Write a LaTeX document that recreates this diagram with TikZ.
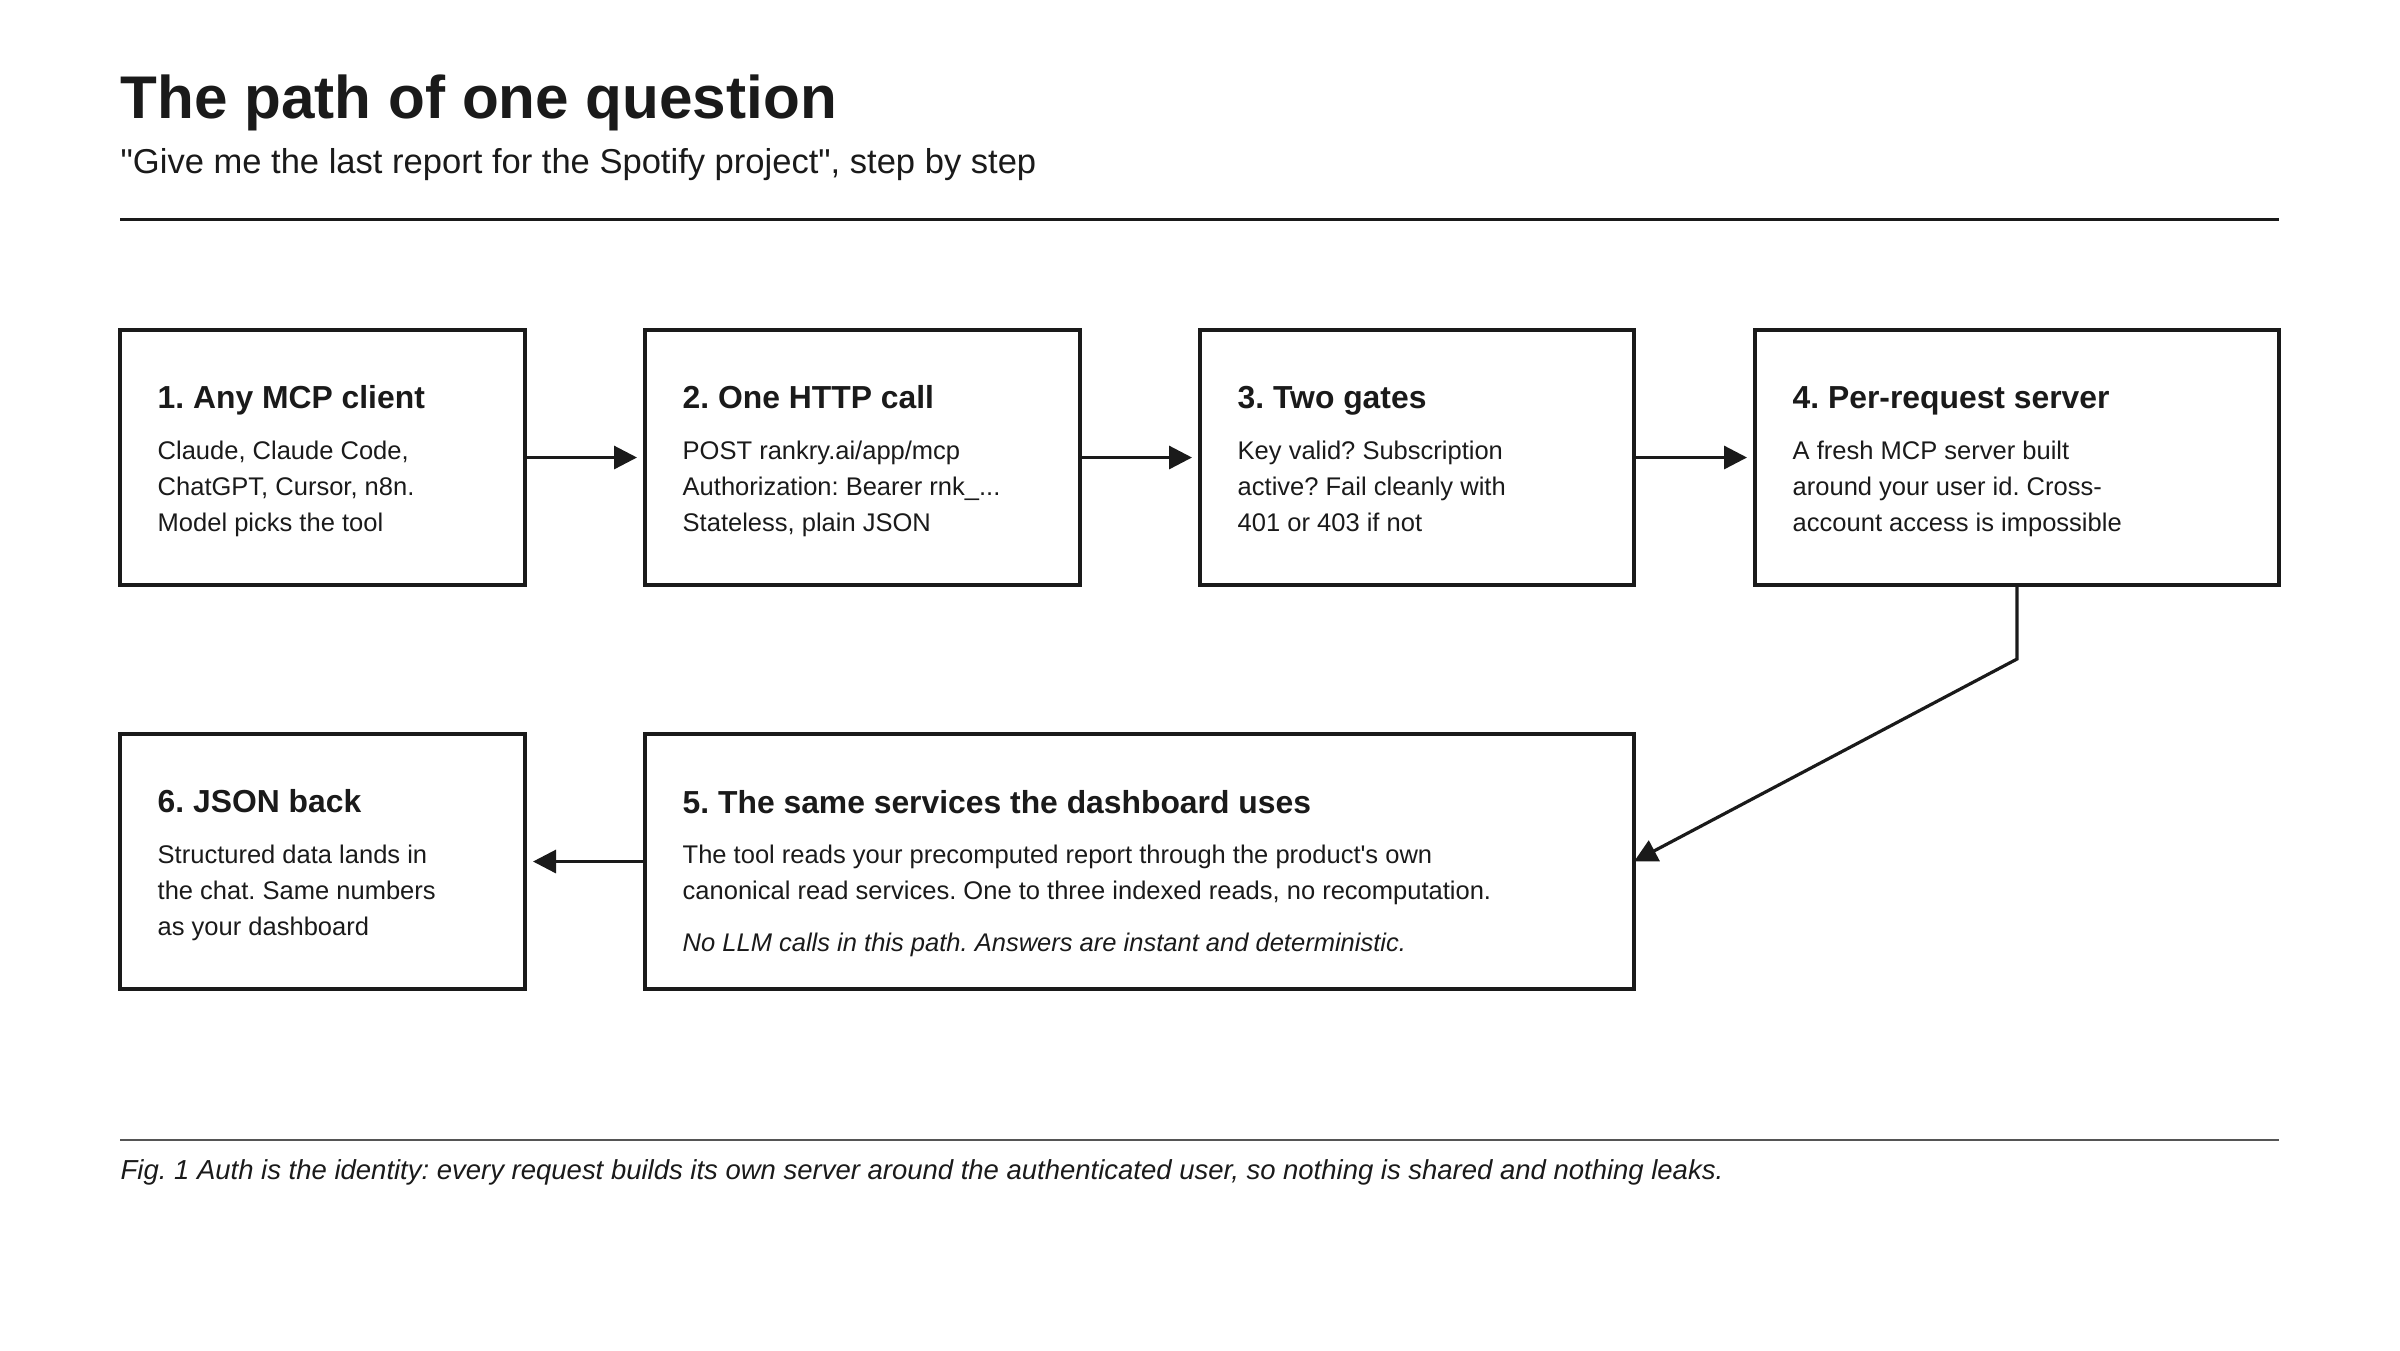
\documentclass[tikz,border=0pt]{standalone}
\usepackage{fontspec}
\setmainfont{Liberation Sans}[Ligatures=TeXOff]
\usetikzlibrary{arrows.meta}
\usetikzlibrary{positioning}
\definecolor{ink}{RGB}{26,26,26}
\definecolor{rulegray}{RGB}{85,85,85}
\frenchspacing

\tikzset{
  stepbox/.style={draw=ink, line width=0.04cm, outer sep=0pt, inner sep=0pt, minimum height=2.55cm},
  stephead/.style={anchor=base west, inner sep=0pt, text=ink, font=\fontsize{9.06}{10.8}\selectfont\bfseries},
  stepbody/.style={anchor=base west, inner sep=0pt, text=ink, align=left, font=\fontsize{7.26}{10.24}\selectfont},
  flow/.style={draw=ink, line width=0.032cm, -{Triangle[length=0.23cm,width=0.23cm]}},
}

\begin{document}
\begin{tikzpicture}
	\useasboundingbox (0,0) rectangle (24,-13.5);
	% header
	\node[anchor=base west, inner sep=0pt, text=ink, font=\fontsize{17.14}{20}\selectfont\bfseries] (title) at (1.20,-1.183) {The path of one question};
	\node[anchor=base west, inner sep=0pt, text=ink, font=\fontsize{9.83}{11.5}\selectfont] (subtitle) at (1.20,-1.733) {"Give me the last report for the Spotify project", step by step};
	\draw[ink, line width=0.03cm] (1.20,-2.19) -- (22.79,-2.19);
	% first row
	\node[stepbox, minimum width=4.05cm, anchor=north west] (b1) at (1.20,-3.30) {};
	\node[stepbox, minimum width=4.35cm, right=1.20cm of b1] (b2) {};
	\node[stepbox, minimum width=4.34cm, right=1.20cm of b2] (b3) {};
	\node[stepbox, minimum width=5.24cm, right=1.21cm of b3] (b4) {};
	% second row
	\node[stepbox, minimum width=4.05cm, below=1.49cm of b1] (b6) {};
	\node[stepbox, minimum width=9.89cm, right=1.20cm of b6] (b5) {};
	% texts (body nodes sit on the baseline of their last line)
	\node[stephead] (h1) at ([shift={(0.37,-0.78)}]b1.north west) {1. Any MCP client};
	\node[stepbody] (t1) at ([shift={(0.37,-2.01)}]b1.north west) {Claude, Claude Code,\\ ChatGPT, Cursor, n8n.\\ Model picks the tool};
	\node[stephead] (h2) at ([shift={(0.37,-0.78)}]b2.north west) {2. One HTTP call};
	\node[stepbody] (t2) at ([shift={(0.37,-2.01)}]b2.north west) {POST rankry.ai/app/mcp\\ Authorization: Bearer rnk\_...\\ Stateless, plain JSON};
	\node[stephead] (h3) at ([shift={(0.37,-0.78)}]b3.north west) {3. Two gates};
	\node[stepbody] (t3) at ([shift={(0.37,-2.01)}]b3.north west) {Key valid? Subscription\\ active? Fail cleanly with\\ 401 or 403 if not};
	\node[stephead] (h4) at ([shift={(0.37,-0.78)}]b4.north west) {4. Per-request server};
	\node[stepbody] (t4) at ([shift={(0.37,-2.01)}]b4.north west) {A fresh MCP server built\\ around your user id. Cross-\\ account access is impossible};
	\node[stephead] (h5) at ([shift={(0.37,-0.79)}]b5.north west) {5. The same services the dashboard uses};
	\node[stepbody] (t5) at ([shift={(0.37,-1.65)}]b5.north west) {The tool reads your precomputed report through the product's own\\ canonical read services. One to three indexed reads, no recomputation.};
	\node[stepbody, font=\fontsize{7.26}{10.24}\selectfont\itshape] (n5) at ([shift={(0.37,-2.17)}]b5.north west) {No LLM calls in this path. Answers are instant and deterministic.};
	\node[stephead] (h6) at ([shift={(0.37,-0.78)}]b6.north west) {6. JSON back};
	\node[stepbody] (t6) at ([shift={(0.37,-2.01)}]b6.north west) {Structured data lands in\\ the chat. Same numbers\\ as your dashboard};
	% connectors
	\draw[flow, shorten >=0.08cm] (b1) -- (b2);
	\draw[flow, shorten >=0.08cm] (b2) -- (b3);
	\draw[flow, shorten >=0.08cm] (b3) -- (b4);
	\draw[flow] (b4.south) -- ++(0,-0.74) -- (b5.east);
	\draw[flow, shorten >=0.08cm] (b5) -- (b6);
	% caption
	\draw[rulegray, line width=0.02cm] (1.20,-11.40) -- (22.79,-11.40);
	\node[anchor=base west, inner sep=0pt, text=ink, font=\fontsize{7.82}{9.4}\selectfont\itshape] (caption) at (1.20,-11.795) {Fig. 1 Auth is the identity: every request builds its own server around the authenticated user, so nothing is shared and nothing leaks.};
\end{tikzpicture}
\end{document}
